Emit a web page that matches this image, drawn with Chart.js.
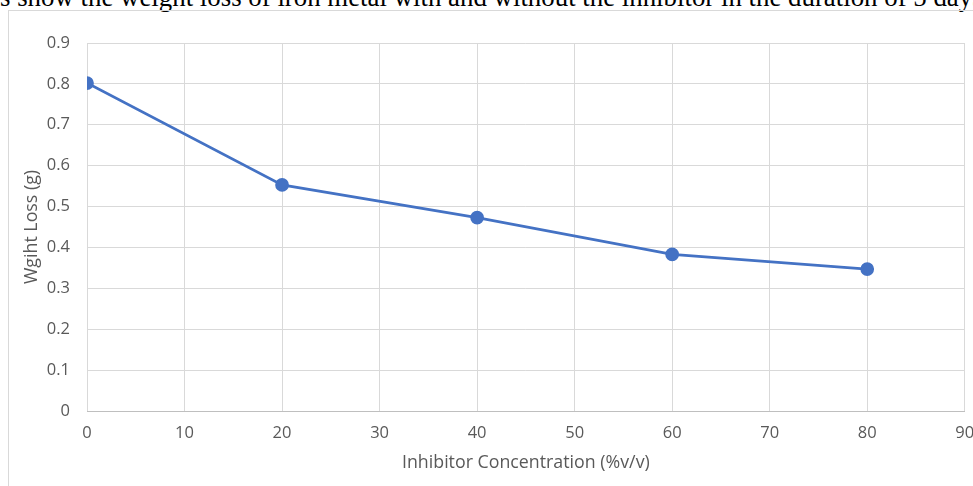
<!DOCTYPE html>
<html>
<head>
<meta charset="utf-8">
<script src="https://cdn.jsdelivr.net/npm/chart.js@4/dist/chart.umd.min.js"></script>
<style>
  html, body { margin: 0; padding: 0; background: #fff; overflow: hidden; }
  #wrap { position: relative; width: 973px; height: 486px; overflow: hidden; }
  #caption {
    position: absolute; left: 0; top: -16px; white-space: nowrap;
    font-family: "Liberation Serif", "Times New Roman", serif; font-size: 26.85px;
    line-height: 1; color: #000;
  }
  #frame {
    position: absolute; left: 8px; top: 10px; width: 1000px; height: 500px;
    border-left: 1.5px solid #d9d9d9; border-top: 1.5px solid #d9d9d9;
  }
  canvas { position: absolute; left: 0; top: 0; }
</style>
</head>
<body>
<div id="wrap">
  <div id="caption">s show the weight loss of iron metal with and without the inhibitor in the duration of 5 days</div>
  <div id="frame"></div>
  <canvas id="c" width="973" height="486"></canvas>
</div>
<script>
// Inhibitor concentration (%v/v) and measured weight loss (g)
const concentrations = [0, 20, 40, 60, 80];
const weightLoss = [0.802, 0.553, 0.473, 0.383, 0.347];

const xTitle = 'Inhibitor Concentration (%v/v)';
const yTitle = 'Wgiht Loss (g)';

const tickFont = { family: "'Open Sans', 'Noto Sans', sans-serif", size: 16.5 };
const titleFont = { family: "'Open Sans', 'Noto Sans', sans-serif", size: 17.8 };
const gridColor = '#d9d9d9';
const textColor = '#595959';

new Chart(document.getElementById('c'), {
  type: 'scatter',
  data: {
    datasets: [{
      data: concentrations.map((x, i) => ({ x, y: weightLoss[i] })),
      showLine: true,
      borderColor: '#4472c4',
      backgroundColor: '#4472c4',
      borderWidth: 2.75,
      pointRadius: 5.5,
      pointHoverRadius: 5.5,
      tension: 0
    }]
  },
  options: {
    responsive: false,
    animation: false,
    layout: { padding: { top: 43, right: 7, left: 0, bottom: 0 } },
    plugins: { legend: { display: false }, tooltip: { enabled: false } },
    scales: {
      x: {
        type: 'linear', min: 0, max: 90,
        ticks: { stepSize: 10, color: textColor, font: tickFont, padding: 12 },
        grid: { color: gridColor, drawTicks: false },
        border: { color: '#bfbfbf' },
        title: { display: true, text: xTitle, color: textColor, font: titleFont, padding: { bottom: 12 } },
        afterFit: s => { s.height = 75; s.paddingLeft = 0; s.paddingRight = 0; }
      },
      y: {
        min: 0, max: 0.9,
        ticks: { stepSize: 0.1, color: textColor, font: tickFont, padding: 17,
                 callback: v => Number(v.toFixed(1)).toString() },
        grid: { color: gridColor, drawTicks: false },
        border: { display: false },
        title: { display: true, text: yTitle, color: textColor, font: titleFont, padding: { top: 21 } },
        afterFit: s => { s.width = 87; s.paddingTop = 0; s.paddingBottom = 0; }
      }
    }
  }
});
</script>
</body>
</html>
